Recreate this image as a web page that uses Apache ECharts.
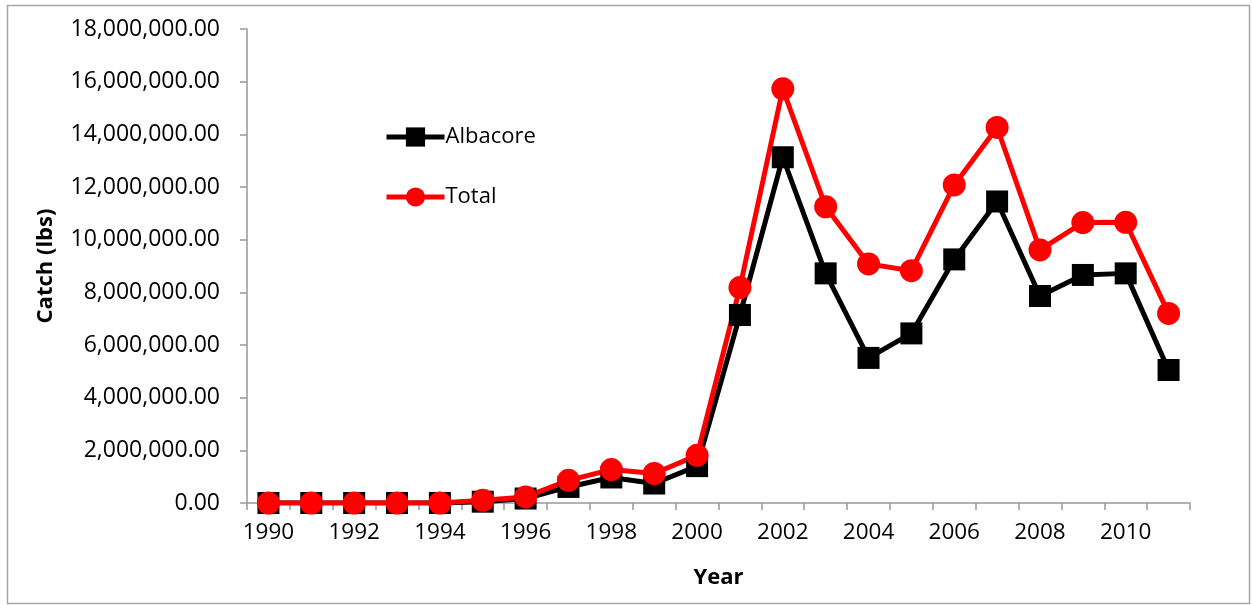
<!DOCTYPE html>
<html><head><meta charset="utf-8">
<script src="https://cdn.jsdelivr.net/npm/echarts@6/dist/echarts.min.js"></script>
<style>html,body{margin:0;padding:0;background:#fff}#c{width:1252px;height:605px}</style>
</head><body><div id="c"></div>
<script>
const years = ['1990','1991','1992','1993','1994','1995','1996','1997','1998','1999','2000','2001','2002','2003','2004','2005','2006','2007','2008','2009','2010','2011'];
const albacore = [0,0,0,0,0,50000,170000,610000,970000,740000,1400000,7140000,13130000,8720000,5510000,6440000,9250000,11450000,7860000,8660000,8720000,5050000];
const total = [0,0,0,0,0,100000,230000,860000,1270000,1120000,1810000,8180000,15730000,11250000,9080000,8820000,12080000,14260000,9610000,10650000,10660000,7200000];
const yTicks = {min:0, max:18000000, interval:2000000};
const FONT = 'Open Sans';
const chart = echarts.init(document.getElementById('c'), null, {renderer:'canvas'});
chart.setOption({
  animation:false,
  backgroundColor:'#fff',
  textStyle:{fontFamily:FONT},
  graphic:[{type:'rect', shape:{x:7.5,y:5.5,width:1242,height:598}, style:{fill:'none', stroke:'#a6a6a6', lineWidth:1.5}, silent:true}],
  grid:{left:247, right:62, top:29, bottom:102, containLabel:false},
  legend:{
    orient:'vertical', left:379, top:121, itemGap:38, itemWidth:58, itemHeight:24,
    lineStyle:{width:5},
    textStyle:{fontFamily:FONT, fontSize:22, color:'#000', padding:[0,0,0,-4]},
    data:['Albacore','Total']
  },
  xAxis:{
    type:'category', data:years, boundaryGap:true,
    name:'Year', nameLocation:'middle', nameGap:64,
    nameTextStyle:{fontFamily:FONT, fontSize:22, fontWeight:'bold', color:'#000'},
    axisLine:{lineStyle:{color:'#999', width:1.5}},
    axisTick:{show:true, interval:0, length:7, lineStyle:{color:'#999', width:1.5}},
    axisLabel:{interval:1, margin:18, fontFamily:FONT, fontSize:22.5, color:'#000'},
    splitLine:{show:false}
  },
  yAxis:{
    type:'value', min:yTicks.min, max:yTicks.max, interval:yTicks.interval,
    name:'Catch (lbs)', nameLocation:'middle', nameGap:190, nameRotate:90,
    nameTextStyle:{fontFamily:FONT, fontSize:22, fontWeight:'bold', color:'#000'},
    axisLine:{show:true, lineStyle:{color:'#999', width:1.5}},
    axisTick:{show:true, length:7, lineStyle:{color:'#999', width:1.5}},
    axisLabel:{margin:27, fontFamily:FONT, fontSize:23, color:'#000',
      formatter:v=>v.toLocaleString('en-US',{minimumFractionDigits:2, maximumFractionDigits:2})},
    splitLine:{show:false}
  },
  series:[
    {name:'Albacore', type:'line', data:albacore, symbol:'rect', symbolSize:22,
     itemStyle:{color:'#000'}, lineStyle:{color:'#000', width:5}},
    {name:'Total', type:'line', data:total, symbol:'circle', symbolSize:23,
     itemStyle:{color:'#ff0000'}, lineStyle:{color:'#ff0000', width:5}}
  ]
});
</script></body></html>
